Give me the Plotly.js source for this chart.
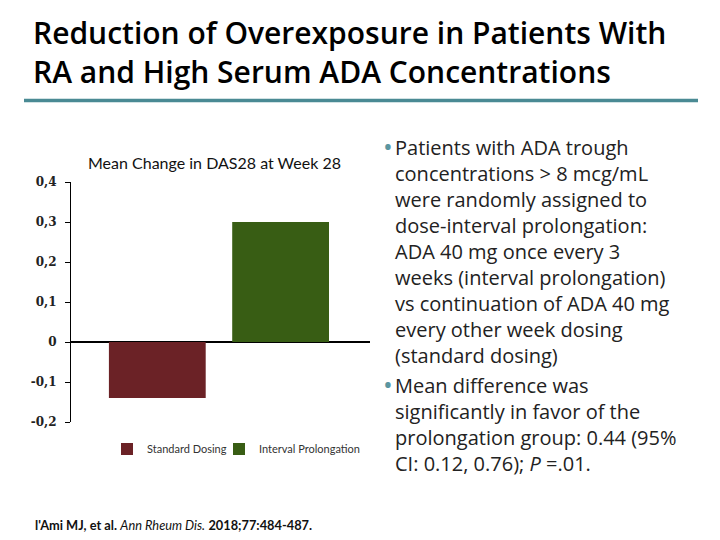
<!DOCTYPE html>
<html>
<head>
<meta charset="utf-8">
<script src="https://cdn.plot.ly/plotly-3.0.1.min.js"></script>
<style>html,body{margin:0;padding:0;background:#fff;}#chart{width:720px;height:540px;}</style>
</head>
<body>
<div id="chart"></div>
<script>
const categories = ["Standard Dosing", "Interval Prolongation"];
const values = [-0.14, 0.30];
const seriesColors = ["#6b2226", "#385d14"];
const tickValues = [-0.2, -0.1, 0, 0.1, 0.2, 0.3, 0.4];
const tickLabels = ["-0,2", "-0,1", "0", "0,1", "0,2", "0,3", "0,4"];
const bullet1 = ["Patients with ADA trough", "concentrations > 8 mcg/mL", "were randomly assigned to", "dose-interval prolongation:", "ADA 40 mg once every 3", "weeks (interval prolongation)", "vs continuation of ADA 40 mg", "every other week dosing", "(standard dosing)"];
const bullet2 = ["Mean difference was", "significantly in favor of the", "prolongation group: 0.44 (95%", "CI: 0.12, 0.76); <i>P</i> =.01."];

const W = 720, H = 540;
const L = 71, R = 370, T = 182, B = 422;
const px = x => (x - L) / (R - L);
const py = y => (B - y) / (B - T);

const legendIds = ["legend", "legend2"];
const traces = categories.map((c, i) => ({
  type: "bar",
  name: c,
  x: [c],
  y: [values[i]],
  marker: {color: seriesColors[i]},
  width: 0.785,
  legend: legendIds[i],
  hoverinfo: "skip"
}));

const sans = "Lato, 'Open Sans', sans-serif";
const wide = "'Open Sans', 'Noto Sans', sans-serif";

const legendBase = {
  orientation: "h", xanchor: "left",
  y: py(449), yanchor: "middle",
  font: {family: sans, size: 11, color: "#333"},
  bgcolor: "rgba(0,0,0,0)", borderwidth: 0
};

const layout = {
  width: W, height: H,
  margin: {l: L, r: W - R, t: T, b: H - B, pad: 0},
  paper_bgcolor: "#fff", plot_bgcolor: "#fff",
  barmode: "overlay",
  showlegend: true,
  title: {
    text: "Reduction of Overexposure in Patients With<br>RA and High Serum ADA Concentrations",
    font: {family: wide, size: 30, color: "#000", weight: 600},
    x: 33 / W, xanchor: "left", xref: "container",
    y: 1 - 44 / H, yanchor: "middle", yref: "container"
  },
  xaxis: {
    type: "category",
    range: [-0.7, 1.725],
    showticklabels: false, ticks: "", showline: false, showgrid: false, zeroline: false
  },
  yaxis: {
    range: [-0.2, 0.4],
    tickvals: tickValues, ticktext: tickLabels,
    ticks: "outside", ticklen: 5, tickcolor: "#000", tickwidth: 1,
    showline: true, linecolor: "#000", linewidth: 1,
    showgrid: false,
    zeroline: true, zerolinecolor: "#000", zerolinewidth: 2,
    tickfont: {family: "'DejaVu Serif', serif", size: 12, color: "#222", weight: "bold"},
    ticklabelstandoff: 6
  },
  legend: Object.assign({}, legendBase, {x: px(107)}),
  legend2: Object.assign({}, legendBase, {x: px(219)}),
  shapes: [{
    type: "line", xref: "paper", yref: "paper",
    x0: px(24), x1: px(698), y0: py(100.5), y1: py(100.5),
    line: {color: "#4a8a94", width: 3.5}
  }],
  annotations: [
    {
      text: "Mean Change in DAS28 at Week 28",
      xref: "paper", yref: "paper", x: px(214), y: py(162),
      xanchor: "center", yanchor: "middle", showarrow: false,
      font: {family: sans, size: 16, color: "#111"}
    },
    {
      text: "<span style='color:#5b96a0'>•</span>",
      xref: "paper", yref: "paper", x: px(388), y: py(146),
      xanchor: "center", yanchor: "middle", showarrow: false,
      font: {family: wide, size: 26}
    },
    {
      text: bullet1.join("<br>"),
      xref: "paper", yref: "paper", x: px(393), y: py(132),
      xanchor: "left", yanchor: "top", align: "left", showarrow: false,
      font: {family: wide, size: 20, color: "#222"}
    },
    {
      text: "<span style='color:#5b96a0'>•</span>",
      xref: "paper", yref: "paper", x: px(388), y: py(384),
      xanchor: "center", yanchor: "middle", showarrow: false,
      font: {family: wide, size: 26}
    },
    {
      text: bullet2.join("<br>"),
      xref: "paper", yref: "paper", x: px(393), y: py(370),
      xanchor: "left", yanchor: "top", align: "left", showarrow: false,
      font: {family: wide, size: 20, color: "#222"}
    },
    {
      text: "<b>l'Ami MJ, et al.</b> <i>Ann Rheum Dis.</i> <b>2018;77:484-487.</b>",
      xref: "paper", yref: "paper", x: px(33), y: py(525),
      xanchor: "left", yanchor: "middle", showarrow: false,
      font: {family: sans, size: 12.8, color: "#111"}
    }
  ]
};

Plotly.newPlot("chart", traces, layout, {displayModeBar: false, staticPlot: true});
</script>
</body>
</html>
